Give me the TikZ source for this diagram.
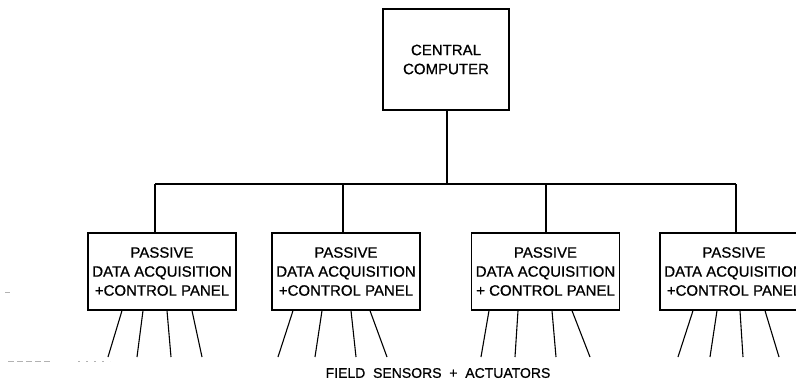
\documentclass[tikz,border=0pt]{standalone}
\usepackage{fontspec}
\setmainfont{Liberation Sans}
\newfontfamily\heavy{Liberation Sans}[FakeBold=0.8]
\begin{document}
\begin{tikzpicture}[x=1pt,y=-1pt,
  panel/.style={draw, line width=1.3pt, minimum width=148pt, minimum height=77pt,
    inner sep=0pt, align=center, font=\heavy\fontsize{15}{19}\selectfont},
  cpu/.style={draw, line width=1.3pt, minimum width=126pt, minimum height=101pt,
    inner sep=0pt, align=center, font=\heavy\fontsize{15}{19}\selectfont},
  wire/.style={line width=1.1pt},
  leg/.style={line width=1.1pt},
  noise/.style={gray!60, line width=0.8pt}]
\useasboundingbox (0,0) rectangle (796,386);
\fill[white] (0,0) rectangle (796,386);
\node[cpu] (cc) at (446,59.5) {CENTRAL\\COMPUTER};
\node[panel] (b1) at (162,271.5) {PASSIVE\\DATA ACQUISITION\\+CONTROL PANEL};
\node[panel] (b2) at (346,271.5) {PASSIVE\\DATA ACQUISITION\\+CONTROL PANEL};
\node[panel] (b3) at (545.5,271.5) {PASSIVE\\DATA ACQUISITION\\+ CONTROL PANEL};
\node[panel] (b4) at (734,271.5) {PASSIVE\\DATA ACQUISITION\\+CONTROL PANEL};
\coordinate (j0) at (447,184);
\coordinate (j1) at (155,184);
\coordinate (j2) at (343,184);
\coordinate (j3) at (546,184);
\coordinate (j4) at (736,184);
\draw[wire] (cc.south -| j0) -- (j0);
\draw[wire] (j1) -- (j4);
\foreach \j/\b in {j1/b1,j2/b2,j3/b3,j4/b4}
  \draw[wire] (\j) -- (\j |- \b.north);
% legs
\foreach \b/\xs/\xe in {b1/122/108, b1/143/137, b1/167/171, b1/192/202,
                        b2/293/278, b2/322/315, b2/351/356, b2/370/387,
                        b3/489/481, b3/518/515, b3/552/556, b3/572/590,
                        b4/693/678, b4/717/710, b4/740/743, b4/765/779}
  \draw[leg] (\b.south -| \xs,0) -- (\xe,357);
\node[font=\heavy\fontsize{14}{16}\selectfont, inner sep=0pt] (fs) at (438,373)
  {FIELD\ \ SENSORS\ \ +\ \ ACTUATORS};
% scan specks
\draw[noise] (5,292) -- (10,292);
\draw[noise, dash pattern=on 6pt off 3pt] (8,361) -- (52,361);
\draw[noise, dash pattern=on 2pt off 6pt] (78,361) -- (110,361);
\end{tikzpicture}
\end{document}
